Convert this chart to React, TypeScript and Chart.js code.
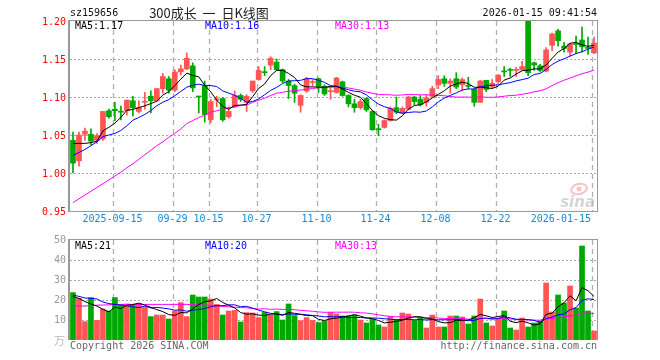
import React, { useEffect, useRef } from 'react';
import { Chart, registerables } from 'chart.js';

Chart.register(...registerables);

// ---------- data ----------
const dates = [
  '2025-09-04','2025-09-05','2025-09-08','2025-09-09','2025-09-10','2025-09-11','2025-09-12','2025-09-15','2025-09-16','2025-09-17',
  '2025-09-18','2025-09-19','2025-09-22','2025-09-23','2025-09-24','2025-09-25','2025-09-26','2025-09-29','2025-09-30','2025-10-09',
  '2025-10-10','2025-10-13','2025-10-14','2025-10-15','2025-10-16','2025-10-17','2025-10-20','2025-10-21','2025-10-22','2025-10-23',
  '2025-10-24','2025-10-27','2025-10-28','2025-10-29','2025-10-30','2025-10-31','2025-11-03','2025-11-04','2025-11-05','2025-11-06',
  '2025-11-07','2025-11-10','2025-11-11','2025-11-12','2025-11-13','2025-11-14','2025-11-17','2025-11-18','2025-11-19','2025-11-20',
  '2025-11-21','2025-11-24','2025-11-25','2025-11-26','2025-11-27','2025-11-28','2025-12-01','2025-12-02','2025-12-03','2025-12-04',
  '2025-12-05','2025-12-08','2025-12-09','2025-12-10','2025-12-11','2025-12-12','2025-12-15','2025-12-16','2025-12-17','2025-12-18',
  '2025-12-19','2025-12-22','2025-12-23','2025-12-24','2025-12-25','2025-12-26','2025-12-29','2025-12-30','2025-12-31','2026-01-05',
  '2026-01-06','2026-01-07','2026-01-08','2026-01-09','2026-01-12','2026-01-13','2026-01-14','2026-01-15'
];

const opens = [
  1.043,1.016,1.051,1.051,1.043,1.045,1.082,1.084,1.081,1.082,
  1.095,1.081,1.093,1.101,1.095,1.111,1.124,1.109,1.133,1.137,
  1.141,1.101,1.115,1.070,1.096,1.098,1.074,1.087,1.102,1.093,
  1.108,1.123,1.133,1.142,1.146,1.136,1.121,1.115,1.089,1.108,
  1.119,1.124,1.114,1.107,1.106,1.120,1.102,1.091,1.086,1.098,
  1.081,1.058,1.060,1.069,1.086,1.079,1.084,1.100,1.097,1.093,
  1.101,1.116,1.124,1.118,1.124,1.116,1.115,1.110,1.093,1.122,
  1.114,1.120,1.134,1.136,1.135,1.136,1.200,1.145,1.141,1.134,
  1.168,1.187,1.167,1.159,1.170,1.175,1.165,1.158
];
const highs = [
  1.054,1.054,1.059,1.058,1.052,1.081,1.084,1.093,1.088,1.096,
  1.101,1.095,1.106,1.108,1.111,1.131,1.127,1.136,1.142,1.158,
  1.145,1.101,1.121,1.097,1.101,1.099,1.087,1.108,1.104,1.103,
  1.121,1.140,1.140,1.153,1.150,1.137,1.123,1.117,1.103,1.126,
  1.123,1.125,1.116,1.114,1.126,1.121,1.103,1.097,1.097,1.099,
  1.082,1.064,1.070,1.087,1.100,1.087,1.101,1.101,1.102,1.103,
  1.114,1.128,1.128,1.124,1.132,1.125,1.126,1.111,1.122,1.122,
  1.123,1.129,1.140,1.138,1.139,1.147,1.200,1.146,1.143,1.165,
  1.184,1.189,1.172,1.171,1.180,1.192,1.179,1.179
];
const lows = [
  1.000,1.009,1.043,1.037,1.039,1.043,1.072,1.069,1.070,1.076,
  1.075,1.079,1.084,1.079,1.094,1.105,1.105,1.107,1.129,1.136,
  1.107,1.079,1.067,1.066,1.087,1.068,1.072,1.086,1.094,1.081,
  1.106,1.122,1.128,1.136,1.135,1.119,1.098,1.093,1.080,1.106,
  1.114,1.106,1.102,1.097,1.105,1.101,1.087,1.080,1.084,1.081,
  1.056,1.049,1.059,1.068,1.078,1.078,1.083,1.090,1.088,1.088,
  1.100,1.111,1.114,1.105,1.111,1.108,1.111,1.088,1.093,1.107,
  1.112,1.118,1.127,1.127,1.127,1.135,1.128,1.135,1.133,1.133,
  1.161,1.167,1.159,1.154,1.157,1.159,1.156,1.157
];
const closes = [
  1.013,1.050,1.055,1.042,1.049,1.081,1.074,1.082,1.080,1.096,
  1.086,1.086,1.094,1.095,1.111,1.127,1.109,1.133,1.137,1.151,
  1.112,1.100,1.077,1.094,1.097,1.070,1.081,1.102,1.097,1.101,
  1.121,1.135,1.132,1.151,1.136,1.121,1.115,1.105,1.102,1.124,
  1.120,1.114,1.104,1.108,1.125,1.102,1.091,1.086,1.094,1.083,
  1.057,1.057,1.069,1.085,1.080,1.085,1.100,1.094,1.090,1.099,
  1.111,1.123,1.118,1.121,1.113,1.123,1.114,1.093,1.121,1.110,
  1.118,1.129,1.133,1.135,1.136,1.140,1.132,1.142,1.135,1.162,
  1.183,1.174,1.164,1.170,1.169,1.166,1.164,1.171
];
const volumes = [
  23.7,20.8,9.2,21.2,9.8,15.5,14.5,21.2,17.5,18.0,
  17.5,18.0,16.3,11.7,12.5,12.5,10.5,14.5,18.7,11.7,
  22.5,21.5,21.5,20.5,17.8,12.5,14.5,14.8,9.0,13.7,
  13.5,11.2,13.8,12.5,14.2,10.0,18.0,12.2,9.7,11.2,
  9.8,8.7,9.5,13.8,13.0,12.0,12.0,12.5,10.0,8.5,
  10.3,7.5,6.5,11.7,10.3,13.5,13.0,9.8,11.3,6.0,
  12.5,6.5,6.5,12.0,12.0,11.5,8.0,12.0,20.5,8.5,
  7.0,10.8,14.5,6.0,5.0,11.0,6.5,8.5,9.5,28.5,
  14.0,22.5,18.5,27.0,16.0,47.0,14.5,4.5
];

// moving-average values at the start of the window (their history lies before the first day)
const ma5Head = [1.039, 1.039, 1.039, 1.040];
const ma10Head = [1.023, 1.027, 1.031, 1.036, 1.041, 1.048, 1.050, 1.052, 1.056];
const ma30Head = [
  0.961,0.966,0.971,0.976,0.981,0.986,0.991,0.996,1.001,1.007,
  1.012,1.018,1.024,1.030,1.036,1.041,1.047,1.052,1.058,1.065,
  1.069,1.073,1.076,1.080,1.082,1.084,1.086,1.087,1.089
];
const vma5Head = [21.7, 20.8, 19.2, 18.0];
const vma10Head = [22.5, 21.8, 21.0, 20.8, 20.5, 19.0, 18.2, 17.8, 17.5];
const vma30Head = [
  17.0,17.0,17.0,17.2,17.4,17.5,17.6,17.7,17.8,17.8,
  17.8,17.8,17.8,17.8,17.8,17.8,17.8,17.8,17.8,17.8,
  17.7,17.6,17.5,17.3,17.0,16.8,16.6,16.4,16.2
];

const tickDates = ['2025-09-15','2025-09-29','2025-10-15','2025-10-27','2025-11-10','2025-11-24','2025-12-08','2025-12-22','2026-01-15'];
const tickLabels = ['2025-09-15','09-29','10-15','10-27','11-10','11-24','12-08','12-22','2026-01-15'];
const priceTicks = [1.20, 1.15, 1.10, 1.05, 1.00, 0.95];
const volTicks = [50, 40, 30, 20, 10];
const priceMaLabels = ['MA5:1.17', 'MA10:1.16', 'MA30:1.13'];
const volMaLabels = ['MA5:21', 'MA10:20', 'MA30:13'];
const symbolText = 'sz159656';
const titleText = '300成长  一  日K线图';
const stampText = '2026-01-15 09:41:54';
const copyrightText = 'Copyright 2026 SINA.COM';
const urlText = 'http://finance.sina.com.cn';
const unitText = '万';

// ---------- helpers ----------
const UP = '#ff5555';
const DOWN = '#00a800';
const MA_COLORS = ['#000000', '#0000ff', '#ff00ff'];
const MONO = '10px "DejaVu Sans Mono", monospace';

function movingAverage(values: number[], n: number, head: number[]): number[] {
  return values.map((_, i) => {
    if (i < n - 1) return head[i];
    let s = 0;
    for (let k = i - n + 1; k <= i; k++) s += values[k];
    return s / n;
  });
}

const candleColors = closes.map((c, i) => (c >= opens[i] ? UP : DOWN));

function txt(ctx: CanvasRenderingContext2D, s: string, x: number, y: number, color: string, align: CanvasTextAlign = 'left', font = MONO) {
  ctx.font = font;
  ctx.fillStyle = color;
  ctx.textAlign = align;
  ctx.textBaseline = 'middle';
  ctx.fillText(s, x, y);
}

function hLine(ctx: CanvasRenderingContext2D, x1: number, x2: number, y: number) {
  ctx.beginPath();
  ctx.moveTo(x1, y);
  ctx.lineTo(x2, y);
  ctx.stroke();
}
function vLine(ctx: CanvasRenderingContext2D, x: number, y1: number, y2: number) {
  ctx.beginPath();
  ctx.moveTo(x, y1);
  ctx.lineTo(x, y2);
  ctx.stroke();
}

function gridX(chart: any, d: string) {
  return Math.round(chart.scales.x.getPixelForValue(dates.indexOf(d)) - 2) + 0.5;
}

function drawGrid(chart: any, ticks: number[]) {
  const { ctx, chartArea: a, scales } = chart;
  ctx.save();
  ctx.strokeStyle = '#aaaaaa';
  ctx.lineWidth = 1;
  ctx.setLineDash([2, 2]);
  for (const v of ticks) {
    if (v === scales.y.max || v === scales.y.min) continue;
    hLine(ctx, a.left, a.right, Math.round(scales.y.getPixelForValue(v)) + 0.5);
  }
  ctx.setLineDash([5, 4]);
  ctx.strokeStyle = '#b0b0b0';
  ctx.lineWidth = 1.3;
  for (const d of tickDates) vLine(ctx, gridX(chart, d), a.top, a.bottom);
  ctx.restore();
}

const mainDecor = {
  id: 'mainDecor',
  beforeDatasetsDraw(chart: any) {
    drawGrid(chart, priceTicks);
    // sina watermark
    const { ctx, chartArea: a } = chart;
    ctx.save();
    ctx.strokeStyle = 'rgba(240,120,120,0.45)';
    ctx.lineWidth = 2;
    ctx.beginPath();
    ctx.ellipse(a.right - 18, a.bottom - 22, 8, 5, -0.2, 0, Math.PI * 2);
    ctx.stroke();
    ctx.fillStyle = 'rgba(240,120,120,0.45)';
    ctx.beginPath();
    ctx.arc(a.right - 18, a.bottom - 22, 2.5, 0, Math.PI * 2);
    ctx.fill();
    txt(ctx, 'sina', a.right - 2, a.bottom - 8, 'rgba(185,185,185,0.6)', 'right', 'italic bold 15px "DejaVu Sans", sans-serif');
    ctx.restore();
  },
  afterDraw(chart: any) {
    const { ctx, chartArea: a, scales } = chart;
    ctx.save();
    // border
    ctx.strokeStyle = '#999999';
    ctx.lineWidth = 1;
    ctx.setLineDash([]);
    ctx.strokeRect(a.left - 0.5, a.top - 0.5, a.right - a.left + 1, a.bottom - a.top + 1);
    ctx.fillStyle = '#999999';
    ctx.fillRect(a.left - 2, a.top - 1, 2, a.bottom - a.top + 2);
    // header
    txt(ctx, symbolText, a.left, 13.5, '#111111');
    txt(ctx, titleText, 209, 13, '#222222', 'center', '13px "Noto Sans CJK SC", sans-serif');
    txt(ctx, stampText, a.right, 13.5, '#111111', 'right');
    // y labels
    for (const v of priceTicks) {
      txt(ctx, v.toFixed(2), a.left - 4, scales.y.getPixelForValue(v) + 1, '#ff0000', 'right');
    }
    // date labels
    ctx.font = MONO;
    tickDates.forEach((d, k) => {
      const label = tickLabels[k];
      const w = ctx.measureText(label).width;
      const cx = Math.min(gridX(chart, d) - 1, a.right - 6 - w / 2);
      txt(ctx, label, cx, a.bottom + 8, '#1589d4', 'center');
    });
    // MA labels
    priceMaLabels.forEach((s, k) => txt(ctx, s, a.left + 5 + 130 * k, a.top + 5.5, MA_COLORS[k]));
    ctx.restore();
  },
};

const volDecor = {
  id: 'volDecor',
  beforeDatasetsDraw(chart: any) {
    drawGrid(chart, volTicks);
  },
  afterDraw(chart: any) {
    const { ctx, chartArea: a, scales } = chart;
    ctx.save();
    ctx.strokeStyle = '#999999';
    ctx.lineWidth = 1;
    hLine(ctx, a.left - 1, a.right + 1, a.top - 0.5);
    vLine(ctx, a.right + 0.5, a.top - 1, a.bottom);
    ctx.fillStyle = '#999999';
    ctx.fillRect(a.left - 2, a.top - 1, 2, a.bottom - a.top + 1);
    for (const v of volTicks) {
      txt(ctx, String(v), a.left - 4, scales.y.getPixelForValue(v) + 0.5, '#999999', 'right');
    }
    txt(ctx, unitText, a.left - 5, a.bottom + 1, '#b8b8b8', 'right', '11px "Noto Sans CJK SC", sans-serif');
    volMaLabels.forEach((s, k) => txt(ctx, s, a.left + 5 + 130 * k, a.top + 6.5, MA_COLORS[k]));
    txt(ctx, copyrightText, a.left, a.bottom + 6, '#666666');
    txt(ctx, urlText, a.right, a.bottom + 6, '#666666', 'right');
    ctx.restore();
  },
};

function lineDs(label: string, data: number[], color: string) {
  return {
    type: 'line' as const,
    label,
    data,
    borderColor: color,
    borderWidth: 1,
    pointRadius: 0,
    tension: 0,
    fill: false,
    order: 0,
  };
}

export default function App() {
  const mainRef = useRef<HTMLCanvasElement>(null);
  const volRef = useRef<HTMLCanvasElement>(null);

  useEffect(() => {
    const ma5 = movingAverage(closes, 5, ma5Head);
    const ma10 = movingAverage(closes, 10, ma10Head);
    const ma30 = movingAverage(closes, 30, ma30Head);
    const vma5 = movingAverage(volumes, 5, vma5Head);
    const vma10 = movingAverage(volumes, 10, vma10Head);
    const vma30 = movingAverage(volumes, 30, vma30Head);

    const main = new Chart(mainRef.current as HTMLCanvasElement, {
      type: 'bar',
      data: {
        labels: dates,
        datasets: [
          lineDs('MA5', ma5, MA_COLORS[0]),
          lineDs('MA10', ma10, MA_COLORS[1]),
          lineDs('MA30', ma30, MA_COLORS[2]),
          {
            type: 'bar',
            label: 'body',
            data: opens.map((o, i) => [o, closes[i]]),
            backgroundColor: candleColors,
            barThickness: 5,
            minBarLength: 1,
            grouped: false,
            order: 1,
          },
          {
            type: 'bar',
            label: 'wick',
            data: lows.map((l, i) => [l, highs[i]]),
            backgroundColor: candleColors,
            barThickness: 1,
            grouped: false,
            order: 2,
          },
        ] as any,
      },
      options: {
        responsive: false,
        animation: false,
        events: [],
        layout: { padding: { left: 70, right: 63, top: 21, bottom: 24 } },
        plugins: { legend: { display: false }, tooltip: { enabled: false } },
        scales: {
          x: { display: false, offset: true },
          y: { display: false, min: 0.95, max: 1.2 },
        },
      },
      plugins: [mainDecor],
    });

    const vol = new Chart(volRef.current as HTMLCanvasElement, {
      type: 'bar',
      data: {
        labels: dates,
        datasets: [
          lineDs('VMA5', vma5, MA_COLORS[0]),
          lineDs('VMA10', vma10, MA_COLORS[1]),
          lineDs('VMA30', vma30, MA_COLORS[2]),
          {
            type: 'bar',
            label: 'volume',
            data: volumes,
            backgroundColor: candleColors,
            barThickness: 5,
            grouped: false,
            order: 1,
          },
        ] as any,
      },
      options: {
        responsive: false,
        animation: false,
        events: [],
        layout: { padding: { left: 70, right: 63, top: 5, bottom: 20 } },
        plugins: { legend: { display: false }, tooltip: { enabled: false } },
        scales: {
          x: { display: false, offset: true },
          y: { display: false, min: 0, max: 50 },
        },
      },
      plugins: [volDecor],
    });

    return () => {
      main.destroy();
      vol.destroy();
    };
  }, []);

  return (
    <div style={{ position: 'fixed', left: 0, top: 0, width: 660, height: 360, background: '#ffffff' }}>
      <canvas ref={mainRef} width={660} height={235} style={{ position: 'absolute', left: 0, top: 0 }} />
      <canvas ref={volRef} width={660} height={125} style={{ position: 'absolute', left: 0, top: 235 }} />
    </div>
  );
}
